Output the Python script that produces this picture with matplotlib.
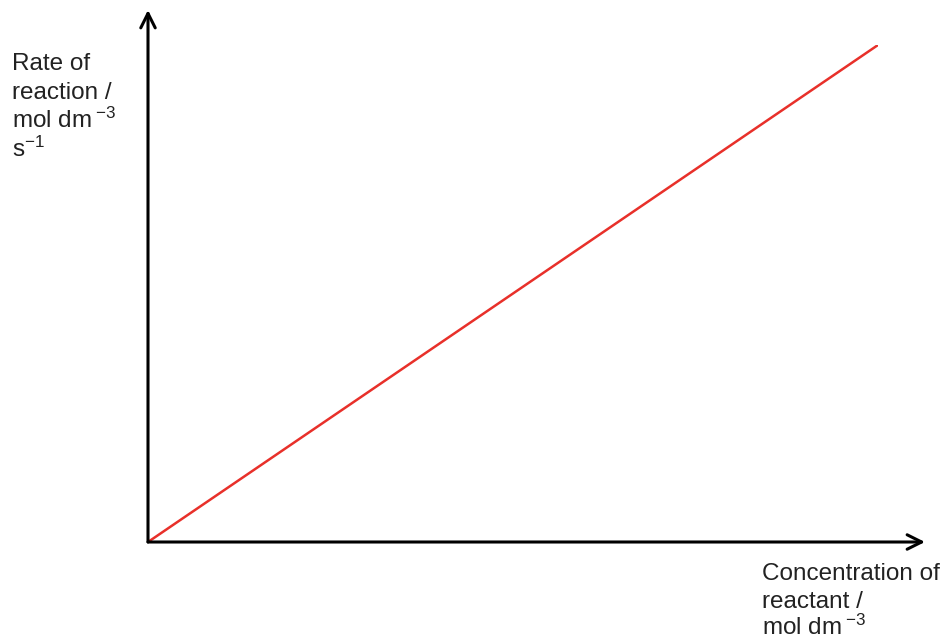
import matplotlib.pyplot as plt

# sketch data: rate directly proportional to concentration
conc = [0, 1]
rate = [0, 1]

y_label_lines = ['Rate of', 'reaction /', 'mol dm$\\,^{-3}$', 's$^{-1}$']
x_label_lines = ['Concentration of', 'reactant /', 'mol dm$\\,^{-3}$']

plt.rcParams['font.family'] = ['Liberation Sans', 'DejaVu Sans']
plt.rcParams['mathtext.default'] = 'regular'

W, H = 948, 641
fig = plt.figure(figsize=(W/100, H/100), dpi=100)

# axes box: origin at pixel (148, 542), line end at (878, 45)
x0, y0, x1, y1 = 148, 542, 878, 45
ax = fig.add_axes([x0/W, (H-y0)/H, (x1-x0)/W, (y0-y1)/H])
ax.set_xlim(0, 1)
ax.set_ylim(0, 1)
ax.axis('off')

ax.plot(conc, rate, color='#e8302a', lw=1.8, solid_capstyle='round')

# axes with arrow heads
xend = (925 - x0) / (x1 - x0)
yend = (542 - 10) / (y0 - y1)
arrow = dict(arrowstyle='->', color='black', lw=2.2, mutation_scale=26,
             shrinkA=0, shrinkB=0)
ax.annotate('', xy=(xend, 0), xytext=(0, 0), arrowprops=arrow,
            annotation_clip=False)
ax.annotate('', xy=(0, yend), xytext=(0, 0), arrowprops=arrow,
            annotation_clip=False)

# labels, one line at a time (baseline in pixels from top)
for i, s in enumerate(y_label_lines):
    fig.text(12/W, 1 - (70 + 29*i)/H, s, fontsize=17.5, color='#222222',
             va='baseline', ha='left')
for i, s in enumerate(x_label_lines):
    fig.text(762/W, 1 - (580 + 27.5*i)/H, s, fontsize=17.5, color='#222222',
             va='baseline', ha='left')

fig.savefig('out.png', dpi=100, facecolor='white')
